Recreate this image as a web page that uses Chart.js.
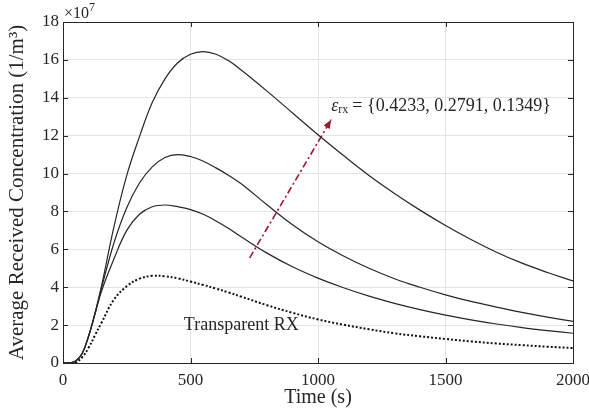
<!DOCTYPE html>
<html>
<head>
<meta charset="utf-8">
<script src="https://cdn.jsdelivr.net/npm/chart.js@4/dist/chart.umd.min.js"></script>
<style>
html, body { margin: 0; padding: 0; background: #fff; }
#wrap { width: 589px; height: 416px; }
</style>
</head>
<body>
<div id="wrap"><canvas id="c" width="589" height="416"></canvas></div>
<script>
// Czas (s)
const times = [0, 25, 50, 75, 100, 125, 150, 200, 250, 300, 350, 400, 450, 500, 550, 600, 650, 700,
    800, 900, 1000, 1100, 1200, 1300, 1400, 1500, 1600, 1700, 1800, 1900, 2000];

// Stężenie w jednostkach 10^7 (1/m^3)
const eps4233 = [0, 0, 0.1, 0.5, 1.4, 2.6, 4.0, 7.2, 9.9, 11.95, 13.75, 15.0, 15.85, 16.3, 16.44, 16.3, 15.95, 15.45,
    14.35, 13.2, 12.05, 10.95, 9.9, 8.95, 8.07, 7.26, 6.52, 5.85, 5.27, 4.78, 4.33];
const eps2791 = [0, 0, 0.1, 0.5, 1.4, 2.6, 3.9, 6.35, 8.2, 9.5, 10.35, 10.85, 11.0, 10.9, 10.65, 10.3, 9.9, 9.45,
    8.35, 7.3, 6.4, 5.65, 5.0, 4.45, 4.0, 3.6, 3.25, 2.95, 2.67, 2.42, 2.2];
const eps1349 = [0, 0, 0.1, 0.5, 1.4, 2.55, 3.75, 5.5, 7.0, 7.85, 8.25, 8.34, 8.25, 8.1, 7.85, 7.5, 7.1, 6.65,
    5.8, 5.08, 4.48, 3.97, 3.53, 3.15, 2.82, 2.53, 2.28, 2.06, 1.87, 1.71, 1.57];
const transparent = [0, 0, 0.03, 0.3, 0.8, 1.45, 2.1, 3.35, 4.05, 4.45, 4.6, 4.58, 4.47, 4.3, 4.12, 3.93, 3.72, 3.5,
    3.05, 2.65, 2.3, 2.02, 1.78, 1.57, 1.41, 1.27, 1.14, 1.03, 0.94, 0.86, 0.79];

// Strzałka: początek i koniec (czas, stężenie)
const arrowX = [732, 1052];
const arrowY = [5.55, 12.85];

// Podziałki osi
const xTicks = [0, 500, 1000, 1500, 2000];
const yTicks = [0, 2, 4, 6, 8, 10, 12, 14, 16, 18];

const epsText = '{0.4233, 0.2791, 0.1349}';
const epsPos = [1052, 13.55];
const rxText = 'Transparent RX';
const rxPos = [474, 2.0];

const ink = '#262626';
const serif = '"Liberation Serif"';

function toPoints(vals) {
    return times.map((t, i) => ({ x: t, y: vals[i] }));
}

// Ramka, wewnętrzne podziałki, napisy i grot strzałki
const overlay = {
    id: 'overlay',
    afterDatasetsDraw(chart) {
        const { ctx, chartArea: a, scales: { x, y } } = chart;
        ctx.save();
        ctx.strokeStyle = ink;
        ctx.lineWidth = 1;
        ctx.beginPath();
        xTicks.forEach(v => {
            const px = Math.round(x.getPixelForValue(v)) + 0.5;
            ctx.moveTo(px, a.bottom); ctx.lineTo(px, a.bottom - 5);
            ctx.moveTo(px, a.top); ctx.lineTo(px, a.top + 5);
        });
        yTicks.forEach(v => {
            const py = Math.round(y.getPixelForValue(v)) + 0.5;
            ctx.moveTo(a.left, py); ctx.lineTo(a.left + 5, py);
            ctx.moveTo(a.right, py); ctx.lineTo(a.right - 5, py);
        });
        ctx.stroke();
        ctx.strokeRect(Math.round(a.left) + 0.5, Math.round(a.top) + 0.5,
            Math.round(a.right - a.left), Math.round(a.bottom - a.top));

        // mnożnik x10^7
        ctx.fillStyle = ink;
        ctx.textBaseline = 'alphabetic';
        ctx.textAlign = 'left';
        ctx.font = '16px ' + serif;
        ctx.fillText('\u00d710', a.left + 1, a.top - 4);
        const w10 = ctx.measureText('\u00d710').width;
        ctx.font = '12px ' + serif;
        ctx.fillText('7', a.left + 1 + w10, a.top - 11);

        // grot strzałki
        const meta = chart.getDatasetMeta(4);
        const p0 = meta.data[0], p1 = meta.data[1];
        const ang = Math.atan2(p1.y - p0.y, p1.x - p0.x);
        ctx.fillStyle = '#a2142f';
        ctx.beginPath();
        ctx.moveTo(p1.x, p1.y);
        ctx.lineTo(p1.x - 9 * Math.cos(ang) + 3.5 * Math.sin(ang), p1.y - 9 * Math.sin(ang) - 3.5 * Math.cos(ang));
        ctx.lineTo(p1.x - 9 * Math.cos(ang) - 3.5 * Math.sin(ang), p1.y - 9 * Math.sin(ang) + 3.5 * Math.cos(ang));
        ctx.closePath();
        ctx.fill();

        // etykieta epsilon
        ctx.fillStyle = ink;
        ctx.textBaseline = 'middle';
        let ex = x.getPixelForValue(epsPos[0]);
        const ey = y.getPixelForValue(epsPos[1]);
        ctx.font = 'italic 18px ' + serif;
        ctx.fillText('\u03b5', ex, ey);
        ex += ctx.measureText('\u03b5').width;
        ctx.font = '12px ' + serif;
        ctx.fillText('rx', ex, ey + 4);
        ex += ctx.measureText('rx').width + 4;
        ctx.font = '18px ' + serif;
        ctx.fillText('= ' + epsText, ex, ey);

        ctx.font = '18px ' + serif;
        ctx.fillText(rxText, x.getPixelForValue(rxPos[0]), y.getPixelForValue(rxPos[1]));
        ctx.restore();
    }
};

const solid = { borderColor: ink, borderWidth: 1.2, pointRadius: 0, fill: false, tension: 0.4 };

new Chart(document.getElementById('c'), {
    type: 'line',
    data: {
        datasets: [
            Object.assign({ data: toPoints(eps4233) }, solid),
            Object.assign({ data: toPoints(eps2791) }, solid),
            Object.assign({ data: toPoints(eps1349) }, solid),
            {
                data: toPoints(transparent),
                borderColor: '#111',
                borderWidth: 2,
                borderDash: [2, 2],
                pointRadius: 0,
                fill: false,
                tension: 0.4
            },
            {
                data: arrowX.map((v, i) => ({ x: v, y: arrowY[i] })),
                borderColor: '#a2142f',
                borderWidth: 1.6,
                borderDash: [7, 3, 2, 3],
                pointRadius: 0,
                fill: false
            }
        ]
    },
    options: {
        responsive: false,
        animation: false,
        devicePixelRatio: 1,
        layout: { padding: { left: 0, top: 22, right: 0, bottom: 0 } },
        scales: {
            x: {
                type: 'linear',
                min: 0,
                max: 2000,
                afterFit: s => { s.height = 53; s.paddingRight = 16; },
                afterBuildTicks: s => { s.ticks = xTicks.map(v => ({ value: v })); },
                grid: { color: '#e3e3e3', drawTicks: false },
                border: { display: false },
                ticks: { color: ink, padding: 7, font: { family: serif, size: 17 }, maxRotation: 0, callback: v => String(v) },
                title: { display: true, text: 'Time (s)', color: ink, font: { family: serif, size: 20 }, padding: { top: 0, bottom: 6 } }
            },
            y: {
                min: 0,
                max: 18,
                afterFit: s => { s.width = 63; },
                afterBuildTicks: s => { s.ticks = yTicks.map(v => ({ value: v })); },
                grid: { color: '#e3e3e3', drawTicks: false },
                border: { display: false },
                ticks: { color: ink, padding: 4, font: { family: serif, size: 17 }, callback: v => String(v) },
                title: { display: true, text: 'Average Received Concentration (1/m\u00b3)', color: ink, font: { family: serif, size: 21 }, padding: { top: 5, bottom: 0 } }
            }
        },
        plugins: {
            legend: { display: false },
            tooltip: { enabled: false }
        }
    },
    plugins: [overlay]
});
</script>
</body>
</html>
